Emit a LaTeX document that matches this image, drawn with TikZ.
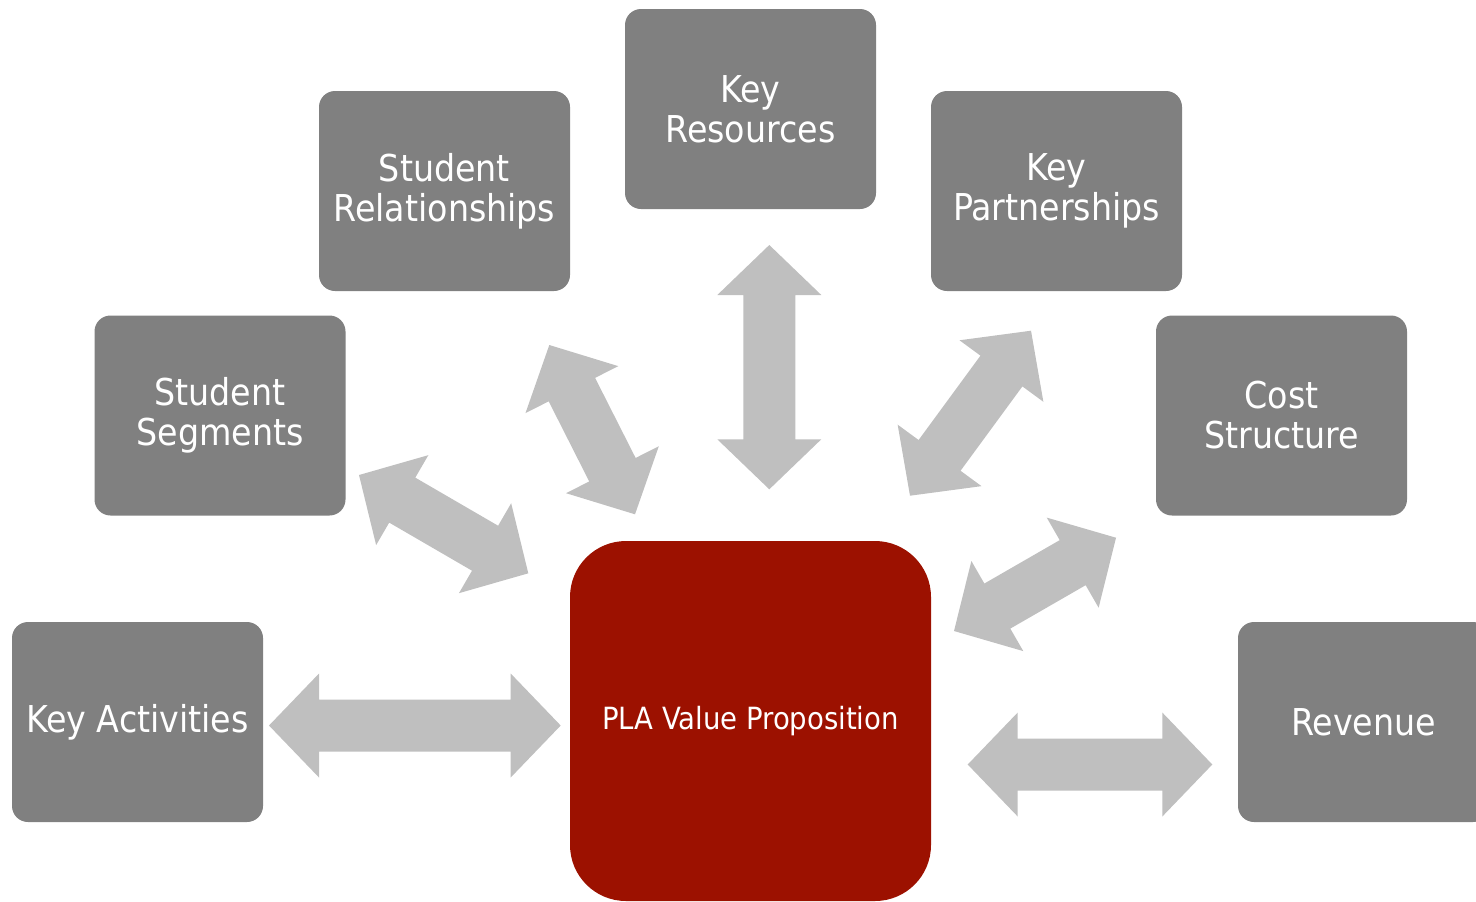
\documentclass[tikz,border=0pt]{standalone}
\usepackage{fontspec}
\setmainfont{DejaVu Sans Condensed}
\usepackage{tikz}
\usetikzlibrary{calc}

\definecolor{boxgray}{RGB}{128,128,128}
\definecolor{linkgray}{RGB}{191,191,191}
\definecolor{vpred}{RGB}{156,17,0}

\newcommand\twoway[2]{%
  \fill[link] (#1)
    -- ($(#1)!25pt!(#2)!26pt!90:(#2)$)
    -- ($(#1)!25pt!(#2)!13pt!90:(#2)$)
    -- ($(#2)!25pt!(#1)!13pt!-90:(#1)$)
    -- ($(#2)!25pt!(#1)!26pt!-90:(#1)$)
    -- (#2)
    -- ($(#2)!25pt!(#1)!26pt!90:(#1)$)
    -- ($(#2)!25pt!(#1)!13pt!90:(#1)$)
    -- ($(#1)!25pt!(#2)!13pt!-90:(#2)$)
    -- ($(#1)!25pt!(#2)!26pt!-90:(#2)$)
    -- cycle;}

\begin{document}
\begin{tikzpicture}[x=0.5pt,y=-0.5pt,
  box/.style={fill=boxgray,rounded corners=8pt,minimum width=125.5pt,
    minimum height=100pt,text=white,align=center,
    font=\fontsize{18.5}{20}\selectfont},
  core/.style={fill=vpred,rounded corners=28pt,minimum width=180.5pt,
    minimum height=180pt,text=white,font=\fontsize{15.3}{17}\selectfont},
  link/.style={fill=linkgray}]
\useasboundingbox (0,0) rectangle (1476,901);
\clip (0,0) rectangle (1476,901);
\node[box]  (act)  at (137.5,722)  {Key Activities};
\node[box]  (seg)  at (220,415.5)  {Student\\Segments};
\node[box]  (rel)  at (444.5,191)  {Student\\Relationships};
\node[box]  (res)  at (750.5,109)  {Key\\Resources};
\node[box]  (part) at (1056.5,191) {Key\\Partnerships};
\node[box]  (cost) at (1281.5,415.5) {Cost\\Structure};
\node[box]  (rev)  at (1363.5,722) {Revenue};
\node[core] (vp)   at (750.5,721)  {PLA Value Proposition};
\coordinate (a1) at (269,725.5);    \coordinate (b1) at (560.7,725.5);
\coordinate (a2) at (359,475);      \coordinate (b2) at (528.3,573.3);
\coordinate (a3) at (549.3,345);    \coordinate (b3) at (635,514.3);
\coordinate (a4) at (769.3,245);    \coordinate (b4) at (769.3,489.3);
\coordinate (a5) at (1031,330.7);   \coordinate (b5) at (910,495.7);
\coordinate (a6) at (1116,537.7);   \coordinate (b6) at (954,631);
\coordinate (a7) at (967.7,764.5);  \coordinate (b7) at (1212.3,764.5);
\foreach \i in {1,...,7}
  \twoway{a\i}{b\i};
\end{tikzpicture}
\end{document}
